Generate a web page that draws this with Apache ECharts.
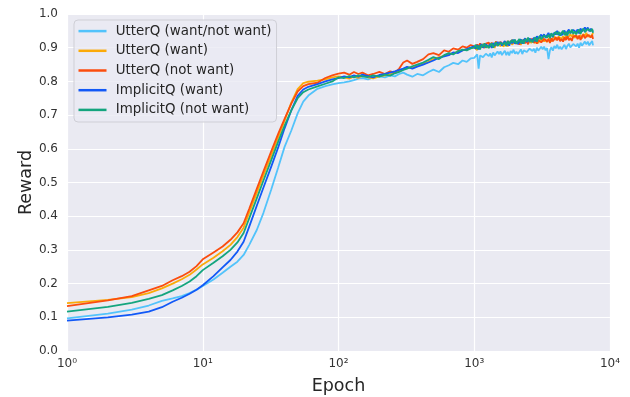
<!DOCTYPE html>
<html>
<head>
<meta charset="utf-8">
<script src="https://cdn.jsdelivr.net/npm/echarts@6/dist/echarts.min.js"></script>
<style>
html,body{margin:0;padding:0;background:#fff;}
#chart{width:630px;height:397px;}
</style>
</head>
<body>
<div id="chart"></div>
<script>
// Epochs (x values, log scale)
const epochs = [
  1,2,3,4,5,6,7,8,9,10,12,14,16,18,20,22,25,28,32,36,40,45,50,55,60,70,80,90,100,
  110,120,130,140,150,165,180,200,220,240,260,280,300,320,350,380,420,460,500,550,600,650,700,760,820,880,940,1000,
  1025,1051,1077,1104,1131,1160,1189,1218,1249,1280,
  1312,1345,1379,1413,1448,1485,1522,1560,1599,1639,
  1680,1722,1765,1809,1854,1900,1948,1996,2046,2098,
  2150,2204,2259,2315,2373,2433,2493,2556,2620,2685,
  2752,2821,2892,2964,3038,3114,3192,3271,3353,3437,
  3523,3611,3701,3794,3889,3986,4085,4188,4292,4400,
  4510,4622,4738,4856,4978,5102,5230,5361,5495,5632,
  5773,5917,6065,6217,6372,6531,6695,6862,7034,7209,
  7390,7500
];

const seriesNames = ["UtterQ (want/not want)", "UtterQ (want)", "UtterQ (not want)", "ImplicitQ (want)", "ImplicitQ (not want)"];

const utterQBoth = [
  0.097,0.111,0.123,0.135,0.149,0.156,0.163,0.172,0.182,0.193,0.212,0.232,0.250,0.265,0.285,0.315,0.359,0.410,0.480,0.545,0.605,0.655,0.705,0.740,0.758,0.778,0.786,0.791,0.795,
  0.797,0.800,0.804,0.808,0.810,0.806,0.812,0.815,0.812,0.818,0.815,0.822,0.826,0.820,0.814,0.822,0.818,0.828,0.835,0.828,0.842,0.848,0.855,0.851,0.862,0.858,0.868,0.870,
  0.868,0.880,0.838,0.877,0.882,0.872,0.869,0.882,0.886,0.875,
  0.883,0.871,0.886,0.877,0.875,0.889,0.881,0.889,0.878,0.885,
  0.891,0.878,0.888,0.877,0.890,0.884,0.894,0.882,0.888,0.881,
  0.883,0.895,0.881,0.892,0.897,0.887,0.884,0.897,0.900,0.890,
  0.897,0.885,0.900,0.891,0.889,0.903,0.895,0.903,0.892,0.899,
  0.866,0.892,0.902,0.891,0.905,0.898,0.909,0.896,0.903,0.895,
  0.898,0.909,0.896,0.906,0.912,0.901,0.899,0.911,0.915,0.904,
  0.912,0.900,0.915,0.906,0.904,0.918,0.910,0.918,0.907,0.914,
  0.920,0.907
];

const utterQWant = [
  0.142,0.152,0.160,0.172,0.186,0.200,0.213,0.226,0.242,0.257,0.277,0.296,0.315,0.338,0.366,0.411,0.469,0.521,0.581,0.635,0.683,0.738,0.777,0.795,0.799,0.802,0.806,0.812,0.815,
  0.812,0.808,0.815,0.810,0.817,0.812,0.809,0.815,0.818,0.821,0.826,0.830,0.836,0.842,0.840,0.846,0.852,0.858,0.866,0.872,0.876,0.880,0.884,0.888,0.892,0.896,0.898,0.902,
  0.905,0.893,0.908,0.899,0.897,0.911,0.903,0.911,0.900,0.907,
  0.913,0.900,0.910,0.899,0.913,0.906,0.917,0.904,0.911,0.903,
  0.906,0.917,0.904,0.914,0.920,0.909,0.906,0.919,0.922,0.912,
  0.919,0.908,0.922,0.914,0.911,0.926,0.917,0.926,0.914,0.922,
  0.927,0.914,0.924,0.913,0.927,0.920,0.931,0.918,0.925,0.917,
  0.920,0.931,0.918,0.928,0.934,0.923,0.921,0.933,0.937,0.926,
  0.934,0.922,0.937,0.928,0.926,0.940,0.932,0.940,0.929,0.936,
  0.941,0.929,0.938,0.927,0.941,0.934,0.944,0.932,0.938,0.930,
  0.933,0.944
];

const utterQNotWant = [
  0.133,0.150,0.163,0.180,0.193,0.210,0.222,0.235,0.252,0.272,0.292,0.310,0.330,0.352,0.379,0.422,0.481,0.533,0.593,0.645,0.688,0.735,0.770,0.786,0.792,0.796,0.810,0.818,0.823,
  0.826,0.820,0.828,0.822,0.826,0.818,0.822,0.828,0.822,0.830,0.826,0.838,0.856,0.862,0.852,0.858,0.866,0.880,0.884,0.878,0.892,0.888,0.898,0.894,0.904,0.900,0.908,0.904,
  0.897,0.910,0.902,0.913,0.901,0.908,0.899,0.912,0.907,0.915,
  0.904,0.915,0.902,0.912,0.918,0.907,0.905,0.917,0.921,0.910,
  0.917,0.905,0.920,0.911,0.908,0.923,0.914,0.922,0.911,0.918,
  0.909,0.923,0.914,0.925,0.913,0.920,0.910,0.923,0.918,0.926,
  0.914,0.925,0.912,0.922,0.927,0.916,0.914,0.926,0.929,0.918,
  0.926,0.914,0.928,0.919,0.917,0.931,0.922,0.931,0.919,0.926,
  0.918,0.931,0.923,0.934,0.922,0.929,0.920,0.933,0.928,0.936,
  0.925,0.936,0.923,0.933,0.939,0.928,0.926,0.938,0.941,0.931,
  0.938,0.926
];

const implicitQWant = [
  0.090,0.100,0.108,0.117,0.130,0.146,0.158,0.170,0.182,0.195,0.222,0.248,0.270,0.295,0.324,0.369,0.431,0.485,0.548,0.605,0.660,0.715,0.757,0.776,0.784,0.792,0.800,0.806,0.810,
  0.815,0.812,0.818,0.814,0.820,0.816,0.812,0.819,0.822,0.826,0.830,0.834,0.838,0.843,0.838,0.844,0.850,0.856,0.862,0.870,0.874,0.878,0.886,0.884,0.892,0.896,0.900,0.904,
  0.897,0.908,0.895,0.905,0.911,0.900,0.898,0.910,0.914,0.903,
  0.911,0.899,0.914,0.905,0.903,0.917,0.909,0.917,0.906,0.914,
  0.920,0.907,0.917,0.906,0.920,0.913,0.924,0.912,0.918,0.911,
  0.914,0.925,0.912,0.922,0.928,0.917,0.915,0.927,0.931,0.920,
  0.930,0.919,0.934,0.926,0.924,0.939,0.931,0.940,0.929,0.937,
  0.944,0.932,0.942,0.931,0.945,0.939,0.950,0.937,0.944,0.937,
  0.940,0.951,0.938,0.948,0.954,0.943,0.941,0.953,0.957,0.946,
  0.954,0.942,0.957,0.948,0.946,0.960,0.952,0.960,0.949,0.956,
  0.961,0.948
];

const implicitQNotWant = [
  0.117,0.131,0.143,0.155,0.166,0.180,0.193,0.206,0.222,0.240,0.262,0.281,0.300,0.322,0.350,0.394,0.453,0.506,0.567,0.622,0.668,0.715,0.750,0.768,0.776,0.785,0.793,0.800,0.812,
  0.810,0.816,0.812,0.818,0.815,0.813,0.818,0.814,0.820,0.817,0.824,0.828,0.834,0.838,0.845,0.850,0.856,0.864,0.872,0.866,0.878,0.884,0.880,0.890,0.894,0.892,0.898,0.900,
  0.909,0.896,0.906,0.895,0.909,0.902,0.913,0.900,0.907,0.899,
  0.902,0.913,0.900,0.910,0.916,0.905,0.903,0.915,0.919,0.909,
  0.917,0.905,0.920,0.911,0.909,0.923,0.915,0.924,0.912,0.920,
  0.926,0.913,0.923,0.912,0.926,0.919,0.930,0.917,0.924,0.916,
  0.919,0.931,0.918,0.929,0.935,0.925,0.923,0.936,0.940,0.930,
  0.939,0.928,0.943,0.934,0.932,0.947,0.939,0.947,0.936,0.944,
  0.950,0.937,0.947,0.936,0.950,0.943,0.954,0.941,0.948,0.940,
  0.943,0.954,0.941,0.951,0.957,0.946,0.944,0.956,0.960,0.949,
  0.956,0.944
];

const seriesValues = [utterQBoth, utterQWant, utterQNotWant, implicitQWant, implicitQNotWant];
const colors = ['#52c3fb', '#fbaa08', '#fb4d0e', '#1259f7', '#14a57e'];

const yTicks = [0,0.1,0.2,0.3,0.4,0.5,0.6,0.7,0.8,0.9,1.0];
const supDigits = ['\u2070','\u00b9','\u00b2','\u00b3','\u2074'];

const chart = echarts.init(document.getElementById('chart'), null, {renderer: 'canvas'});
const font = 'DejaVu Sans';

const series = seriesNames.map((name, i) => ({
  name: name,
  type: 'line',
  data: epochs.map((e, j) => [e, seriesValues[i][j]]),
  showSymbol: false,
  symbol: 'none',
  lineStyle: { width: 1.8, color: colors[i] },
  itemStyle: { color: colors[i] },
  z: 2 + i
}));

chart.setOption({
  animation: false,
  backgroundColor: '#ffffff',
  grid: { left: 67, right: 20, top: 14, bottom: 46, show: true, backgroundColor: '#EAEAF2', borderWidth: 0, containLabel: false, outerBoundsMode: 'none' },
  legend: {
    left: 74, top: 20,
    orient: 'vertical',
    data: seriesNames.map((n, i) => ({ name: n, icon: 'rect', itemStyle: { color: colors[i] } })),
    itemWidth: 28, itemHeight: 2.5, itemGap: 4.5,
    padding: [3.5, 5, 4.5, 4.5],
    backgroundColor: 'rgba(234,234,242,0.8)',
    borderColor: '#cfcfd6', borderWidth: 1, borderRadius: 4,
    formatter: n => ' ' + n,
    textStyle: { fontFamily: font, fontSize: 13.4, color: '#262626', lineHeight: 15.2 }
  },
  xAxis: {
    type: 'log', logBase: 10, min: 1, max: 10000,
    name: 'Epoch', nameLocation: 'middle', nameGap: 26,
    nameTextStyle: { fontFamily: font, fontSize: 17.5, color: '#262626' },
    axisLine: { show: false }, axisTick: { show: false },
    axisLabel: {
      fontFamily: font, fontSize: 12, color: '#333', margin: 7,
      formatter: v => '10' + supDigits[Math.round(Math.log10(v))]
    },
    splitLine: { show: true, lineStyle: { color: '#ffffff', width: 1.2 } },
    minorSplitLine: { show: false }
  },
  yAxis: {
    type: 'value', min: 0, max: 1, interval: 0.1,
    name: 'Reward', nameLocation: 'middle', nameGap: 32, nameMoveOverlap: false,
    nameTextStyle: { fontFamily: font, fontSize: 17.5, color: '#262626' },
    axisLine: { show: false }, axisTick: { show: false },
    axisLabel: { fontFamily: font, fontSize: 12, color: '#333', margin: 9, formatter: v => v.toFixed(1) },
    splitLine: { show: true, lineStyle: { color: '#ffffff', width: 1.2 } }
  },
  series: series
});
</script>
</body>
</html>
